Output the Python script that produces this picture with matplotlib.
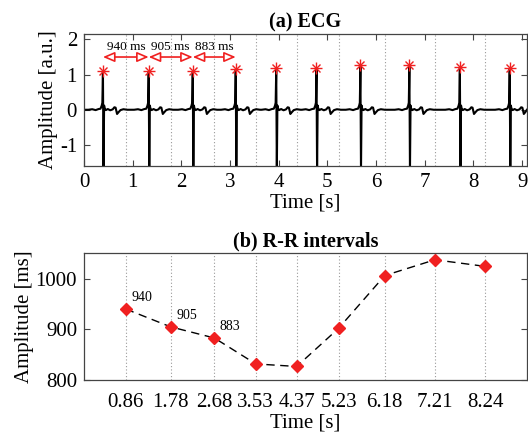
import numpy as np
import matplotlib
matplotlib.use("Agg")
import matplotlib.pyplot as plt

plt.rcParams["font.family"] = ["Liberation Serif", "DejaVu Serif"]
plt.rcParams["axes.unicode_minus"] = False

# R-peak times [s] and their amplitudes
r_times = [0.39, 1.33, 2.235, 3.118, 3.95, 4.777, 5.679, 6.685, 7.722, 8.746]
r_amps = [1.09, 1.08, 1.07, 1.14, 1.16, 1.16, 1.24, 1.24, 1.21, 1.17]

# R-R intervals [ms] plotted at the midpoint between consecutive peaks
rr_ms = [940, 905, 883, 832, 827, 902, 1006, 1037, 1024]
rr_mid = [0.86, 1.78, 2.68, 3.53, 4.37, 5.23, 6.18, 7.21, 8.24]
rr_ticklabels = ["0.86", "1.78", "2.68", "3.53", "4.37", "5.23", "6.18", "7.21", "8.24"]

# one beat as (offset from R peak [s], amplitude); the R value is replaced per beat
beat_off = [-0.30, -0.22, -0.15, -0.09, -0.05, -0.025, -0.012, 0.0, 0.012, 0.024, 0.035,
            0.06, 0.10, 0.15, 0.20, 0.235, 0.26, 0.29, 0.32, 0.36, 0.42, 0.50]
beat_amp = [0.0, 0.015, -0.01, 0.02, 0.03, 0.12, 0.2, None, -1.75, 0.12, 0.04,
            -0.01, 0.02, -0.015, 0.01, 0.07, 0.06, -0.12, -0.07, -0.01, 0.015, 0.0]

RED = "#f02020"
EDGE = "#444444"

ecg_t, ecg_v = [0.0], [0.0]
for tr, a in zip(r_times, r_amps):
    for o, v in zip(beat_off, beat_amp):
        if tr + o <= ecg_t[-1] or tr + o > 9.1:
            continue
        ecg_t.append(tr + o)
        ecg_v.append(a if v is None else v)
ecg_t.append(9.1)
ecg_v.append(0.0)

fig = plt.figure(figsize=(5.28, 4.38), dpi=100)
ax1 = fig.add_axes([0.159, 0.621, 0.839, 0.301])
ax2 = fig.add_axes([0.159, 0.132, 0.839, 0.290])

for ax in (ax1, ax2):
    for s in ax.spines.values():
        s.set_color(EDGE)
        s.set_linewidth(0.9)
    ax.tick_params(direction="in", top=True, right=True, labelsize=15,
                   length=4, width=0.8, color=EDGE, pad=5)
    for m in rr_mid:
        ax.axvline(m, color="#999999", ls=(0, (1, 2)), lw=0.8, zorder=0)

# (a) ECG trace with detected peaks
ax1.plot(ecg_t, ecg_v, color="black", lw=1.5)
ax1.plot(r_times, [a + 0.02 for a in r_amps], "+", color=RED, ms=8, mew=1.0)
ax1.plot(r_times, [a + 0.02 for a in r_amps], "x", color=RED, ms=6, mew=1.0)
for i in range(3):
    ax1.annotate("", xy=(r_times[i], 1.5), xytext=(r_times[i + 1], 1.5),
                 arrowprops=dict(arrowstyle="<|-|>,head_length=0.7,head_width=0.3",
                                 color=RED, fc="white", lw=1.2, shrinkA=0, shrinkB=0))
    ax1.text((r_times[i] + r_times[i + 1]) / 2, 1.78, f"{rr_ms[i]} ms",
             ha="center", va="center", fontsize=9.5)
ax1.set_xlim(0, 9.1)
ax1.set_ylim(-1.6, 2.15)
ax1.set_xticks(range(10))
ax1.set_yticks([-1, 0, 1, 2])
ax1.set_xlabel("Time [s]", fontsize=15, labelpad=1)
ax1.set_ylabel("Amplitude [a.u.]", fontsize=15, labelpad=1)
ax1.set_title("(a) ECG", fontsize=14.5, fontweight="bold", pad=5)

# (b) R-R intervals
ax2.plot(rr_mid, rr_ms, color="black", ls=(0, (6, 4)), lw=1.0)
ax2.plot(rr_mid, rr_ms, "D", color=RED, ms=6, mec=RED, mfc=RED)
for i in range(3):
    ax2.annotate(str(rr_ms[i]), (rr_mid[i], rr_ms[i]), xytext=(4, 6),
                 textcoords="offset points", fontsize=10)
ax2.set_xlim(0, 9.1)
ax2.set_ylim(800, 1050)
ax2.set_xticks(rr_mid)
ax2.set_xticklabels(rr_ticklabels)
ax2.set_yticks([800, 900, 1000])
ax2.tick_params(axis="x", length=0, pad=9)
ax2.set_xlabel("Time [s]", fontsize=15, labelpad=1)
ax2.set_ylabel("Amplitude [ms]", fontsize=15, labelpad=1)
ax2.set_title("(b) R-R intervals", fontsize=14.5, fontweight="bold", pad=5)

fig.savefig("out.png", dpi=100)
